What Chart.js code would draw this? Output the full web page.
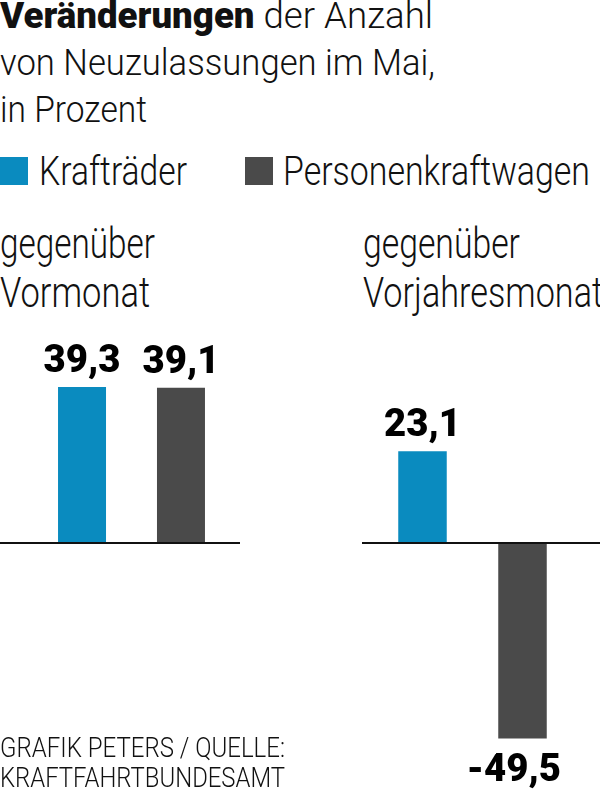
<!DOCTYPE html>
<html lang="de">
<head>
<meta charset="utf-8">
<title>Neuzulassungen im Mai</title>
<script src="https://cdn.jsdelivr.net/npm/chart.js@4"></script>
<style>
  html, body { margin: 0; padding: 0; background: #fff; }
  body { width: 600px; height: 794px; position: relative; overflow: hidden;
         font-family: Roboto, "Noto Sans", sans-serif; font-weight: 300; color: #111; }
  .abs { position: absolute; white-space: nowrap; }
  .fit { display: inline-block; transform-origin: 0 0; }
  #title { left: 0; top: -8px; font-size: 37px; line-height: 47px; }
  #title b { font-weight: 900; }
  #legend { left: 0; top: 151px; height: 41px; width: 600px; font-size: 41px; line-height: 41px; }
  .sw { position: absolute; top: 6px; width: 28px; height: 28px; }
  .lt { position: absolute; top: 0; }
  .sub { top: 219px; font-size: 43px; line-height: 49px; }
  #footer { left: 0; top: 733px; font-size: 27px; line-height: 30px; z-index: 2; }
  canvas { position: absolute; top: 330px; }
</style>
</head>
<body>
<div id="title" class="abs">
  <div><span class="fit" data-w="433"><b>Veränderungen</b> der Anzahl</span></div>
  <div><span class="fit" data-w="435">von Neuzulassungen im Mai,</span></div>
  <div><span class="fit" data-w="147">in Prozent</span></div>
</div>
<div id="legend" class="abs"></div>
<div class="abs sub" style="left:0">
  <div><span class="fit" data-w="155">gegenüber</span></div>
  <div><span class="fit" data-w="150">Vormonat</span></div>
</div>
<div class="abs sub" style="left:363px">
  <div><span class="fit" data-w="157">gegenüber</span></div>
  <div><span class="fit" data-w="240">Vorjahresmonat</span></div>
</div>
<canvas id="chartLeft" width="240" height="464" style="left:0"></canvas>
<canvas id="chartRight" width="238" height="464" style="left:362px"></canvas>
<div id="footer" class="abs">
  <div><span class="fit" data-w="285">GRAFIK PETERS / QUELLE:</span></div>
  <div><span class="fit" data-w="285">KRAFTFAHRTBUNDESAMT</span></div>
</div>

<script>
// Data
const categories = ['gegenüber Vormonat', 'gegenüber Vorjahresmonat'];
const seriesNames = ['Krafträder', 'Personenkraftwagen'];
const kraftraeder = [39.3, 23.1];
const pkw = [39.1, -49.5];
const seriesColors = ['#0a8bbf', '#4a4a4a'];

const FONT = 'Roboto, "Noto Sans", sans-serif';

// Legend (HTML)
const legendPos = [{ sw: 0, txt: 39, w: 148 }, { sw: 245, txt: 283, w: 307 }];
const legend = document.getElementById('legend');
seriesNames.forEach((name, i) => {
    let sw = document.createElement('span');
    sw.className = 'sw';
    sw.style.left = legendPos[i].sw + 'px';
    sw.style.background = seriesColors[i];
    legend.appendChild(sw);
    let t = document.createElement('span');
    t.className = 'lt fit';
    t.style.left = legendPos[i].txt + 'px';
    t.dataset.w = legendPos[i].w;
    t.textContent = name;
    legend.appendChild(t);
});

// squeeze text lines to the narrow widths of the original typeface
document.querySelectorAll('.fit').forEach(el => {
    const w = el.getBoundingClientRect().width;
    el.style.transform = 'scaleX(' + (el.dataset.w / w) + ')';
});

// Zero line across the whole canvas
const zeroLine = {
    id: 'zeroLine',
    afterDatasetsDraw(chart) {
        const ctx = chart.ctx;
        const y = chart.scales.y.getPixelForValue(0);
        ctx.save();
        ctx.fillStyle = '#111';
        ctx.fillRect(0, Math.round(y) - 1, chart.width, 2);
        ctx.restore();
    }
};

// Value labels above / below bars
const valueLabels = {
    id: 'valueLabels',
    afterDatasetsDraw(chart) {
        const ctx = chart.ctx;
        ctx.save();
        ctx.font = '900 38px ' + FONT;
        ctx.fillStyle = '#000';
        ctx.textBaseline = 'alphabetic';
        ctx.textAlign = 'right';
        const cap = ctx.measureText('4').actualBoundingBoxAscent;
        const k = 77 / ctx.measureText('39,3').width; // condensed look
        chart.data.datasets.forEach((ds, di) => {
            chart.getDatasetMeta(di).data.forEach((bar, i) => {
                const v = ds.data[i];
                const num = Math.abs(v).toFixed(1).replace('.', ',');
                const txt = (v < 0 ? '-' : '') + num;
                const w = ctx.measureText(num).width * k;
                const y = v >= 0 ? bar.y - 15 : bar.y + 14 + cap;
                ctx.save();
                ctx.translate(bar.x + w / 2, y);
                ctx.scale(k, 1);
                ctx.fillText(txt, 0, 0);
                ctx.restore();
            });
        });
        ctx.restore();
    }
};

function makeChart(id, idx, padLeft, padRight, catPct) {
    const ctx = document.getElementById(id).getContext('2d');
    return new Chart(ctx, {
        type: 'bar',
        data: {
            labels: [categories[idx]],
            datasets: [
                { label: seriesNames[0], data: [kraftraeder[idx]], backgroundColor: seriesColors[0] },
                { label: seriesNames[1], data: [pkw[idx]], backgroundColor: seriesColors[1] }
            ]
        },
        options: {
            responsive: false,
            animation: false,
            categoryPercentage: catPct,
            barPercentage: 0.485,
            layout: { padding: { left: padLeft, right: padRight, top: 0, bottom: 0 } },
            plugins: { legend: { display: false }, tooltip: { enabled: false } },
            scales: {
                x: { display: false },
                y: { display: false, min: -63.5, max: 53.7 }
            }
        },
        plugins: [zeroLine, valueLabels]
    });
}

makeChart('chartLeft', 0, 23, 0, 0.912);
makeChart('chartRight', 1, 0, 17, 0.905);
</script>
</body>
</html>
